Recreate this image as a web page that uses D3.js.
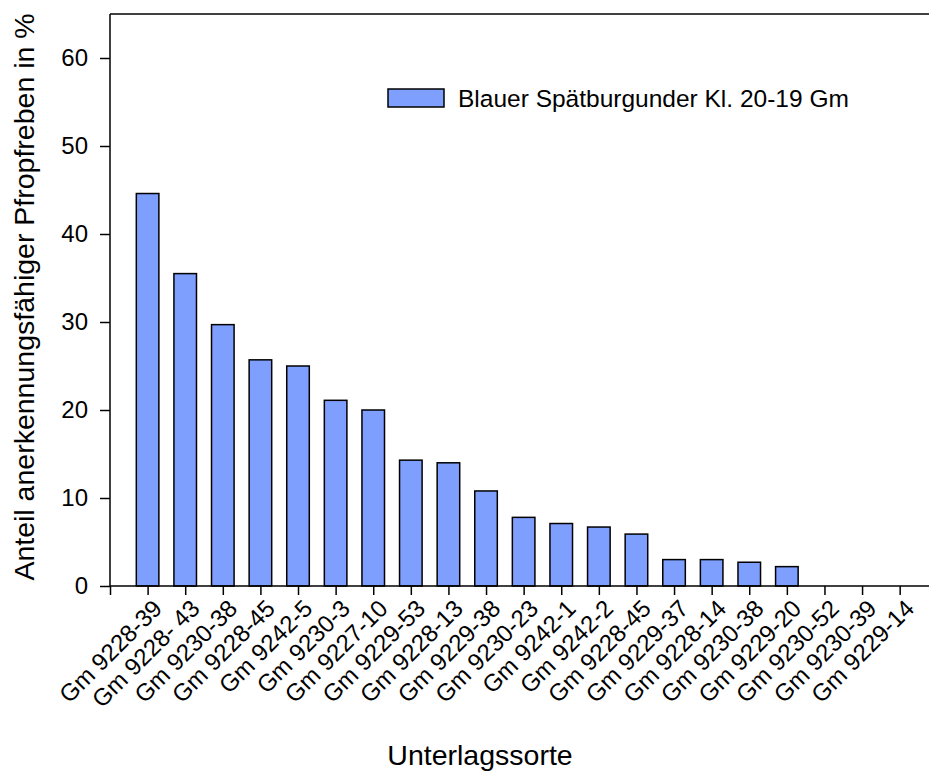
<!DOCTYPE html>
<html>
<head>
<meta charset="utf-8">
<script src="https://cdn.jsdelivr.net/npm/d3@7"></script>
<style>
  body { margin: 0; background: #fff; }
  text { font-family: "Liberation Sans", Arial, sans-serif; fill: #000; }
</style>
</head>
<body>
<svg id="chart" width="929" height="774"></svg>
<script>
// data
const categories = [
  "Gm 9228-39", "Gm 9228- 43", "Gm 9230-38", "Gm 9228-45", "Gm 9242-5",
  "Gm 9230-3", "Gm 9227-10", "Gm 9229-53", "Gm 9228-13", "Gm 9229-38",
  "Gm 9230-23", "Gm 9242-1", "Gm 9242-2", "Gm 9228-45", "Gm 9229-37",
  "Gm 9228-14", "Gm 9230-38", "Gm 9229-20", "Gm 9230-52", "Gm 9230-39",
  "Gm 9229-14"
];
const values = [
  44.6, 35.5, 29.7, 25.7, 25.0, 21.1, 20.0, 14.3, 14.0, 10.8,
  7.8, 7.1, 6.7, 5.9, 3.0, 3.0, 2.7, 2.2, 0, 0, 0
];
const yTicks = [0, 10, 20, 30, 40, 50, 60];
const seriesName = "Blauer Spätburgunder Kl. 20-19 Gm";

const svg = d3.select("#chart");
const plotLeft = 110, plotRight = 929, plotTop = 14, plotBottom = 586;

// categories sit on positions 1..21, axis starts at 0
const x = d3.scaleLinear().domain([0, 21.78]).range([plotLeft, plotRight]);
const y = d3.scaleLinear().domain([0, 65]).range([plotBottom, plotTop]);
const barW = (x(1) - x(0)) * 0.6;

// top frame line
svg.append("line")
  .attr("x1", plotLeft).attr("x2", plotRight)
  .attr("y1", plotTop).attr("y2", plotTop)
  .attr("stroke", "#000").attr("stroke-width", 1.5);

// bars
svg.append("g").selectAll("rect")
  .data(values)
  .join("rect")
  .attr("x", (d, i) => x(i + 1) - barW / 2)
  .attr("y", d => y(d))
  .attr("width", barW)
  .attr("height", d => y(0) - y(d))
  .attr("fill", "#7f9fff")
  .attr("stroke", "#000")
  .attr("stroke-width", 1.5)
  .attr("display", d => d > 0 ? null : "none");

// y axis
const yAxis = svg.append("g")
  .attr("transform", `translate(${plotLeft},0)`)
  .call(d3.axisLeft(y).tickValues(yTicks).tickSize(10).tickPadding(12).tickFormat(d3.format("d")));
yAxis.select(".domain").attr("d", `M0,${plotBottom}V${plotTop}`).attr("stroke-width", 1.5);
yAxis.selectAll(".tick line").attr("stroke-width", 1.5);
yAxis.selectAll(".tick text").style("font-size", "24px");

// x axis
const xTickVals = d3.range(0, categories.length + 1);
const xAxis = svg.append("g")
  .attr("transform", `translate(0,${plotBottom})`)
  .call(d3.axisBottom(x).tickValues(xTickVals).tickSize(9).tickFormat(""));
xAxis.select(".domain").attr("d", `M${plotLeft},0H${plotRight}`).attr("stroke-width", 1.5);
xAxis.selectAll(".tick line").attr("stroke-width", 1.5);

svg.append("g").selectAll("text")
  .data(categories)
  .join("text")
  .attr("transform", (d, i) => `translate(${x(i + 1) + 10},${plotBottom + 18}) rotate(-45)`)
  .attr("text-anchor", "end")
  .attr("dy", "0.35em")
  .style("font-size", "24px")
  .text(d => d);

// axis titles
svg.append("text")
  .attr("transform", `translate(34,${(plotTop + plotBottom) / 2 - 3}) rotate(-90)`)
  .attr("text-anchor", "middle")
  .style("font-size", "28.5px")
  .text("Anteil anerkennungsfähiger Pfropfreben in %");

svg.append("text")
  .attr("x", 480).attr("y", 765)
  .attr("text-anchor", "middle")
  .style("font-size", "28.5px")
  .text("Unterlagssorte");

// legend
const legend = svg.append("g").attr("transform", "translate(388,89)");
legend.append("rect")
  .attr("width", 56).attr("height", 18)
  .attr("fill", "#7f9fff").attr("stroke", "#000").attr("stroke-width", 1.5);
legend.append("text")
  .attr("x", 70).attr("y", 9).attr("dy", "0.35em")
  .style("font-size", "24.5px")
  .text(seriesName);
</script>
</body>
</html>
